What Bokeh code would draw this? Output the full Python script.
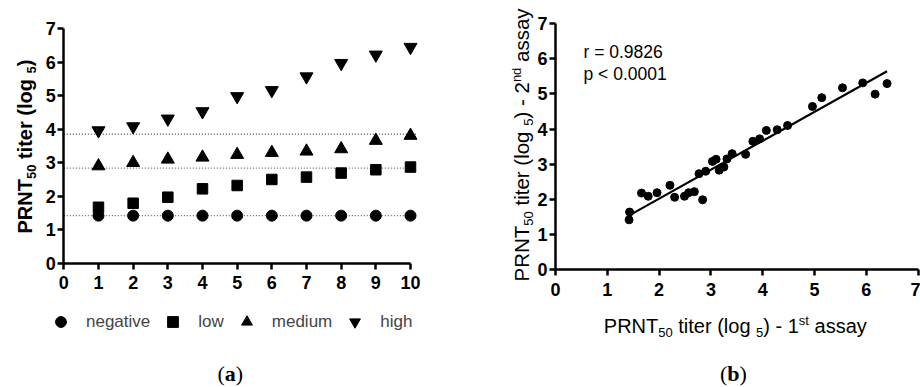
import math
from bokeh.plotting import figure
from bokeh.models import Range1d, Label, Legend, LegendItem, FixedTicker
from bokeh.layouts import row
from bokeh.embed import file_html
from bokeh.resources import INLINE

# ---------------- data: panel (a) ----------------
samples = [1, 2, 3, 4, 5, 6, 7, 8, 9, 10]
negative = [1.42, 1.42, 1.42, 1.42, 1.42, 1.42, 1.42, 1.42, 1.42, 1.42]
low = [1.67, 1.79, 1.97, 2.22, 2.32, 2.50, 2.57, 2.69, 2.79, 2.87]
medium = [2.90, 3.00, 3.10, 3.16, 3.24, 3.30, 3.34, 3.41, 3.66, 3.81]
high = [3.96, 4.08, 4.31, 4.53, 4.98, 5.16, 5.57, 5.97, 6.22, 6.45]
cutoffs = [1.42, 2.84, 3.85]
cutoff_x = [0, 10.2]
a_xticks = [0, 1, 2, 3, 4, 5, 6, 7, 8, 9, 10]
a_yticks = [0, 1, 2, 3, 4, 5, 6, 7]

# ---------------- data: panel (b) ----------------
assay1 = [1.42, 1.43, 1.66, 1.79, 1.96, 2.21, 2.30, 2.49, 2.57, 2.68, 2.84,
          2.77, 2.90, 3.03, 3.10, 3.16, 3.25, 3.31, 3.41, 3.67, 3.81, 3.94,
          4.07, 4.28, 4.48, 4.96, 5.14, 5.54, 5.93, 6.17, 6.40]
assay2 = [1.42, 1.64, 2.18, 2.09, 2.19, 2.40, 2.06, 2.09, 2.19, 2.22, 1.99,
          2.73, 2.80, 3.08, 3.14, 2.83, 2.92, 3.15, 3.30, 3.28, 3.65, 3.72,
          3.96, 3.98, 4.10, 4.64, 4.89, 5.17, 5.31, 4.99, 5.29]
fit_x = [1.415, 6.40]
fit_y = [1.54, 5.64]
b_ticks = [0, 1, 2, 3, 4, 5, 6, 7]
stats_text = ["r = 0.9826", "p < 0.0001"]

FONT = "Liberation Sans"
SERIF = "Liberation Serif"
BASE_FIX = 0.32  # em offset between requested and drawn baseline

REG = {' ': 278, '(': 333, ')': 333, '-': 333, '.': 278, '<': 584, '=': 584,
       'P': 667, 'R': 722, 'N': 722, 'T': 611, 'a': 556, 'd': 556, 'e': 556,
       'g': 556, 'h': 556, 'i': 222, 'l': 222, 'm': 833, 'n': 556, 'o': 556,
       'p': 556, 'r': 333, 's': 500, 't': 278, 'u': 556, 'v': 500, 'w': 722,
       'y': 500}
BOLD = {' ': 278, '(': 333, ')': 333, '-': 333, 'P': 667, 'R': 722, 'N': 722,
        'T': 611, 'e': 556, 'g': 611, 'i': 278, 'l': 278, 'o': 611, 'r': 389,
        't': 333, 'a': 500, 'b': 556}


def tw(s, size, bold):
    table = BOLD if bold else REG
    return sum(table.get(c, 556) for c in s) * size / 1000.0


def rich_text(p, x, y, parts, vertical=False, font=FONT):
    """Place a run of text pieces (sub/superscripts) in screen units."""
    pos = 0.0
    for txt, size, bold, shift in parts:
        stripped = txt.strip()
        lead = len(txt) - len(txt.lstrip())
        off = pos + tw(txt[:lead], size, bold)
        fix = BASE_FIX * size
        if vertical:
            lx, ly, ang = x - shift - fix, y + off, math.pi / 2
        else:
            lx, ly, ang = x + off, y + shift + fix, 0
        if stripped:
            p.add_layout(Label(x=lx, y=ly, x_units="screen", y_units="screen",
                               text=stripped, angle=ang, text_font=font,
                               text_font_size=f"{size}px",
                               text_font_style="bold" if bold else "normal",
                               text_color="black", text_baseline="alphabetic",
                               text_align="left"))
        pos += tw(txt, size, bold)


def style_axes(p, xticks, yticks, xbounds, ybounds):
    for ax in (p.xaxis[0], p.yaxis[0]):
        ax.fixed_location = 0
        ax.axis_line_width = 2.5
        ax.axis_line_color = "black"
        ax.major_tick_line_width = 2.5
        ax.major_tick_line_color = "black"
        ax.major_tick_out = 6
        ax.major_tick_in = 0
        ax.minor_tick_line_color = None
        ax.major_label_text_font = FONT
        ax.major_label_text_font_size = "18px"
        ax.major_label_text_font_style = "bold"
        ax.major_label_text_color = "black"
        ax.axis_label = None
    p.xaxis[0].ticker = FixedTicker(ticks=xticks)
    p.yaxis[0].ticker = FixedTicker(ticks=yticks)
    p.xaxis[0].bounds = xbounds
    p.yaxis[0].bounds = ybounds
    p.xaxis[0].major_label_standoff = 7
    p.yaxis[0].major_label_standoff = 2
    p.xgrid.grid_line_color = None
    p.ygrid.grid_line_color = None
    p.outline_line_color = None


# ---------------- panel (a) ----------------
pa = figure(width=460, height=387, output_backend="svg", toolbar_location=None,
            x_range=Range1d(-1.826, 11.442), y_range=Range1d(-3.710, 7.842),
            min_border=0)
style_axes(pa, a_xticks, a_yticks, (0, 10), (0, 7))

for c in cutoffs:
    pa.line(cutoff_x, [c, c], line_color="#666666", line_width=1.3, line_dash="1 2")

r_neg = pa.scatter(samples, negative, marker="circle", size=11, color="black")
r_low = pa.scatter(samples, low, marker="square", size=10.5, color="black")
r_med = pa.scatter(samples, medium, marker="triangle", size=13, color="black")
r_high = pa.scatter(samples, high, marker="inverted_triangle", size=13, color="black")

legend = Legend(items=[LegendItem(label="negative", renderers=[r_neg]),
                       LegendItem(label="low", renderers=[r_low]),
                       LegendItem(label="medium", renderers=[r_med]),
                       LegendItem(label="high", renderers=[r_high])],
                orientation="horizontal", location=(47, 52),
                glyph_width=27, glyph_height=27, label_standoff=12, spacing=9,
                padding=0, margin=0, border_line_color=None,
                background_fill_alpha=0, label_text_font=FONT,
                label_text_font_size="17px", label_height=27)
pa.add_layout(legend)

# y-axis title of (a), bold with subscripts
rich_text(pa, 31, 154, [("PRNT", 20, True, 0), ("50", 13, True, -4),
                        (" titer (log ", 20, True, 0), ("5", 13, True, -4),
                        (")", 20, True, 0)], vertical=True)
rich_text(pa, 217, 7, [("(", 22, False, 0), ("a", 22, True, 0), (")", 22, False, 0)],
          font=SERIF)

# ---------------- panel (b) ----------------
pb = figure(width=460, height=387, output_backend="svg", toolbar_location=None,
            x_range=Range1d(-1.834, 7.046), y_range=Range1d(-3.344, 7.651),
            min_border=0)
style_axes(pb, b_ticks, b_ticks, (0, 7), (0, 7))

pb.line(fit_x, fit_y, line_color="black", line_width=2.2)
pb.scatter(assay1, assay2, marker="circle", size=8, color="black")

rich_text(pb, 123, 330, [(stats_text[0], 17.5, False, 0)])
rich_text(pb, 123, 307.5, [(stats_text[1], 17.5, False, 0)])

rich_text(pb, 143.3, 55.3, [("PRNT", 20, False, 0), ("50", 13, False, -4),
                            (" titer (log ", 20, False, 0), ("5", 13, False, -4),
                            (") - 1", 20, False, 0), ("st", 13, False, 7.5),
                            (" assay", 20, False, 0)])
rich_text(pb, 68, 106, [("PRNT", 20.5, False, 0), ("50", 13, False, -4),
                        (" titer (log ", 20.5, False, 0), ("5", 13, False, -4),
                        (") - 2", 20.5, False, 0), ("nd", 13, False, 7.5),
                        (" assay", 20.5, False, 0)], vertical=True)
rich_text(pb, 259.5, 7, [("(", 22, False, 0), ("b", 22, True, 0), (")", 22, False, 0)],
          font=SERIF)

layout = row(pa, pb)
open("out.html", "w").write(file_html(layout, INLINE))
